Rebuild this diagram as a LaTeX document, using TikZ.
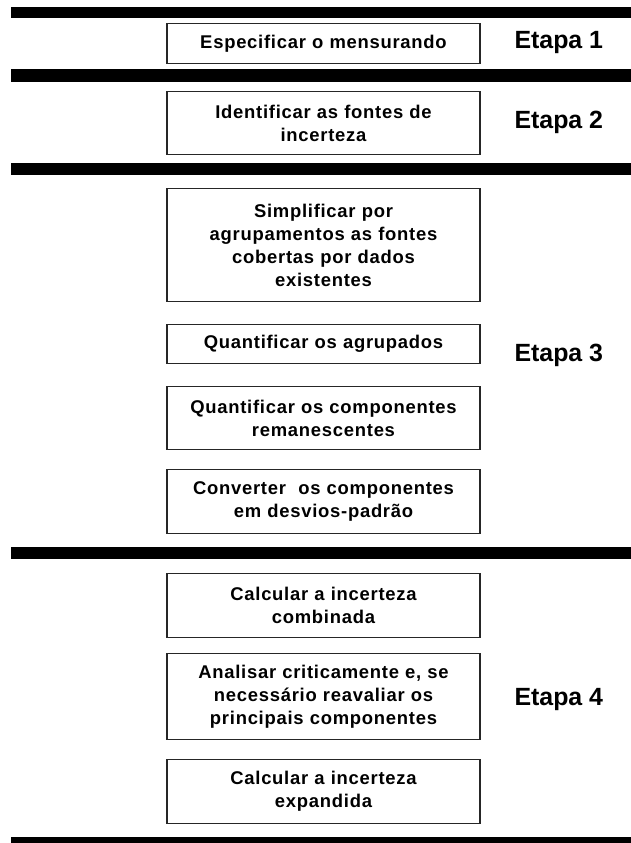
\documentclass[tikz,border=0pt]{standalone}
\usepackage{fontspec}
\setmainfont{Liberation Sans}
\newfontfamily\spacedfont[LetterSpace=4]{Liberation Sans}
\usetikzlibrary{positioning}

\begin{document}
\begin{tikzpicture}[
    x=1bp, y=-1bp,
    font=\spacedfont\bfseries\fontsize{18.5}{23}\selectfont,
    stepbox/.style={draw=black!85, line width=1.3bp, minimum width=313bp,
                    text width=308bp, inner sep=0pt, align=center, anchor=north},
    etapa/.style={font=\normalfont\bfseries\fontsize{25}{30}\selectfont, anchor=west},
    bar/.style={fill=black}
]
\useasboundingbox (0,0) rectangle (631,843);
% separating bars
\fill[bar] (11,7) rectangle (631,18);
\fill[bar] (11,69) rectangle (631,82);
\fill[bar] (11,163) rectangle (631,175);
\fill[bar] (11,547) rectangle (631,559);
\fill[bar] (11,837) rectangle (631,843);
% etapa 1
\node[stepbox, minimum height=40bp] (spec) at (323.5,23) {Especificar o mensurando};
\node[etapa] (etapa1) at (511,43) {Etapa 1};
% etapa 2
\node[stepbox, minimum height=63bp] (fontes) at (323.5,91) {Identificar as fontes de\\incerteza};
\node[etapa] (etapa2) at (511,122) {Etapa 2};
% etapa 3
\node[stepbox, minimum height=113bp] (simpl) at (323.5,188)
    {Simplificar por\\agrupamentos as fontes\\cobertas por dados\\existentes};
\node[stepbox, minimum height=39bp] (quantgr) at (323.5,324) {Quantificar os agrupados};
\node[stepbox, minimum height=63bp] (quantcomp) at (323.5,386)
    {Quantificar os componentes\\remanescentes};
\node[stepbox, minimum height=64bp] (conv) at (323.5,469)
    {Converter\ \ os componentes\\em desvios-padr\~ao};
\node[etapa] (etapa3) at (511,355) {Etapa 3};
% etapa 4
\node[stepbox, minimum height=64bp] (comb) at (323.5,573) {Calcular a incerteza\\combinada};
\node[stepbox, minimum height=86bp] (anal) at (323.5,653)
    {Analisar criticamente e, se\\necess\'ario reavaliar os\\principais componentes};
\node[stepbox, minimum height=64bp] (expand) at (323.5,759) {Calcular a incerteza\\expandida};
\node[etapa] (etapa4) at (511,700) {Etapa 4};
\end{tikzpicture}
\end{document}
